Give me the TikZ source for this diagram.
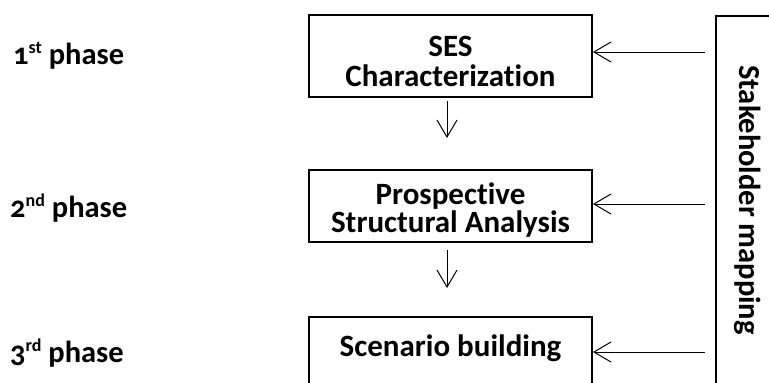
\documentclass[tikz,border=0pt]{standalone}
\usepackage{fontspec}
\setmainfont{Carlito}[Numbers=OldStyle, Ligatures=NoCommon]
\usetikzlibrary{arrows.meta}
\newcommand{\ordsup}[1]{\raisebox{10.5pt}{\fontsize{18}{18}\selectfont #1}}
% invisible strut that pushes a centred block of lines downwards
\newcommand{\topstrut}[1]{\rule{0pt}{#1}}
\begin{document}
\begin{tikzpicture}[x=1pt,y=-1pt,
  txt/.style={font=\fontsize{30.5}{30}\selectfont\bfseries, inner sep=0pt},
  stagebox/.style={draw, line width=2pt, minimum width=283pt, align=center,
    font=\fontsize{31}{29}\selectfont\bfseries, inner sep=0pt},
  arr/.style={line width=1pt, -{Straight Barb[length=17pt,width=20pt,line width=1pt]}},
]
\useasboundingbox (0,0) rectangle (769,383);
\clip (0,0) rectangle (769,383);

% process stages
\node[stagebox, minimum height=82pt] (ses) at (450.5,56) {\topstrut{32pt}SES\\[1pt]Characterization};
\node[stagebox, minimum height=72pt] (psa) at (450.5,206) {\topstrut{30pt}Prospective\\[-1pt]Structural Analysis};
\node[stagebox, anchor=north, text height=39pt, text depth=80pt] (scen) at (450.5,316) {Scenario building};

% stakeholder mapping column (runs past the right and lower edges)
\node[draw, line width=2pt, anchor=north west, minimum width=100pt, minimum height=430pt] (sh) at (715,15) {};
\node[txt, rotate=-90] (shtxt) at (747.5,200) {Stakeholder mapping};

% phase labels
\node[txt, anchor=base west] (p1) at (13,64) {1\ordsup{st} phase};
\node[txt, anchor=base west] (p2) at (10,217) {2\ordsup{nd} phase};
\node[txt, anchor=base west] (p3) at (10,362) {3\ordsup{rd} phase};

% flow between stages
\coordinate (d1s) at (447,101);
\coordinate (d1e) at (447,138);
\coordinate (d2s) at (447,250);
\coordinate (d2e) at (447,288);
\draw[arr] (d1s) -- (d1e);
\draw[arr] (d2s) -- (d2e);

% stakeholder input to each stage
\coordinate (i1) at (705,52);
\coordinate (i2) at (705,204);
\coordinate (i3) at (705,352);
\draw[arr] (i1) -- (i1 -| ses.east);
\draw[arr] (i2) -- (i2 -| psa.east);
\draw[arr] (i3) -- (i3 -| scen.east);
\end{tikzpicture}
\end{document}
